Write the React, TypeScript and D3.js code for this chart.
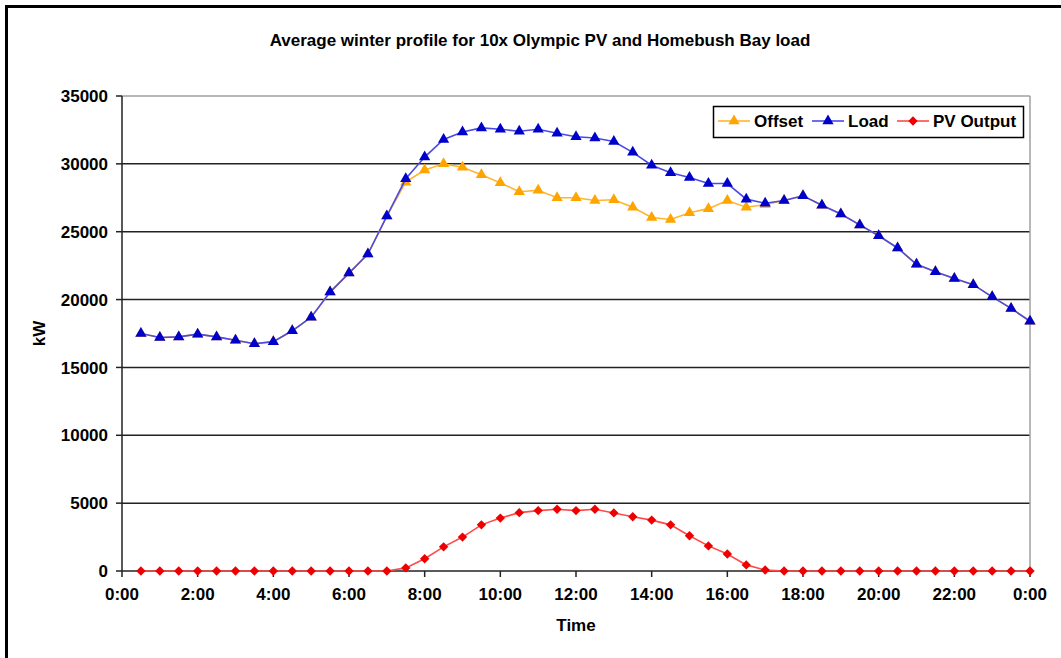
import React from "react";
import * as d3 from "d3";

// half-hourly time stamps (hours), 0:30 .. 24:00
const hours = [
  0.5, 1, 1.5, 2, 2.5, 3, 3.5, 4, 4.5, 5, 5.5, 6, 6.5, 7, 7.5, 8, 8.5, 9, 9.5, 10, 10.5, 11, 11.5, 12,
  12.5, 13, 13.5, 14, 14.5, 15, 15.5, 16, 16.5, 17, 17.5, 18, 18.5, 19, 19.5, 20, 20.5, 21, 21.5, 22,
  22.5, 23, 23.5, 24,
];

const load = [
  17500, 17200, 17250, 17450, 17250, 17000, 16750, 16900, 17700, 18700, 20550, 21950, 23350, 26150,
  28900, 30500, 31800, 32350, 32650, 32550, 32400, 32550, 32250, 32000, 31900, 31650, 30850, 29900,
  29350, 29000, 28550, 28550, 27400, 27100, 27300, 27650, 26950, 26300, 25500, 24700, 23800, 22600,
  22050, 21550, 21100, 20200, 19350, 18400,
];

const offset = [
  17500, 17200, 17250, 17450, 17250, 17000, 16750, 16900, 17700, 18700, 20550, 21950, 23350, 26150,
  28650, 29550, 30000, 29750, 29200, 28600, 27950, 28050, 27500, 27500, 27300, 27350, 26800, 26050,
  25900, 26400, 26700, 27300, 26800, 27000, 27300, 27650, 26950, 26300, 25500, 24700, 23800, 22600,
  22050, 21550, 21100, 20200, 19350, 18400,
];

const pvOutput = [
  0, 0, 0, 0, 0, 0, 0, 0, 0, 0, 0, 0, 0, 0, 230, 900, 1780, 2500, 3400, 3900, 4300, 4450, 4550, 4450,
  4550, 4280, 4000, 3750, 3400, 2600, 1850, 1250, 450, 70, 0, 0, 0, 0, 0, 0, 0, 0, 0, 0, 0, 0, 0, 0,
];

const xTickHours = [0, 2, 4, 6, 8, 10, 12, 14, 16, 18, 20, 22, 24];
const xTickLabels = ["0:00", "2:00", "4:00", "6:00", "8:00", "10:00", "12:00", "14:00", "16:00", "18:00", "20:00", "22:00", "0:00"];
const yTicks = [0, 5000, 10000, 15000, 20000, 25000, 30000, 35000];

const W = 1061;
const H = 658;
const FONT = "'Liberation Sans', Arial, sans-serif";

const x = d3.scaleLinear().domain([0, 24]).range([122, 1030]);
const y = d3.scaleLinear().domain([0, 35000]).range([571, 96]);

// diamonds are drawn as squares turned 45deg, like Excel's markers
const series = [
  { name: "Offset", values: offset, line: "#ffb52e", fill: "#ffa500", symbol: d3.symbolTriangle, size: 55, rot: 0 },
  { name: "Load", values: load, line: "#4a4ae6", fill: "#0000cc", symbol: d3.symbolTriangle, size: 55, rot: 0 },
  { name: "PV Output", values: pvOutput, line: "#ff4a4a", fill: "#ee0000", symbol: d3.symbolSquare, size: 44, rot: 45 },
];

const lineGen = d3
  .line<number>()
  .x((_d, i) => x(hours[i]))
  .y((d) => y(d));

const App = () => {
  const legendX = [718, 812, 897];
  return (
    <svg
      width={W}
      height={H}
      style={{ position: "absolute", left: 0, top: 0, background: "#fff" }}
      fontFamily={FONT}
    >
      <rect x={6.5} y={6.5} width={W + 20} height={H + 20} fill="#fff" stroke="#000" strokeWidth={3} />

      <text x={540} y={46} textAnchor="middle" fontSize={17} fontWeight="bold">
        Average winter profile for 10x Olympic PV and Homebush Bay load
      </text>

      {/* grid */}
      {yTicks.map((t) => (
        <g key={t}>
          {t > 0 && t < 35000 && (
            <line x1={x(0)} x2={x(24)} y1={y(t)} y2={y(t)} stroke="#222" strokeWidth={1.5} />
          )}
          <line x1={116} x2={x(0)} y1={y(t)} y2={y(t)} stroke="#222" strokeWidth={1.5} />
          <text x={108} y={y(t)} dy="0.36em" textAnchor="end" fontSize={17} fontWeight="bold">
            {t}
          </text>
        </g>
      ))}
      <line x1={x(0)} x2={x(24)} y1={y(35000)} y2={y(35000)} stroke="#a0a0a0" strokeWidth={1.5} />
      <line x1={x(24)} x2={x(24)} y1={y(35000)} y2={y(0)} stroke="#a0a0a0" strokeWidth={1.5} />

      {/* axes */}
      <line x1={x(0)} x2={x(0)} y1={y(35000)} y2={y(0)} stroke="#222" strokeWidth={1.5} />
      <line x1={x(0)} x2={x(24)} y1={y(0)} y2={y(0)} stroke="#222" strokeWidth={1.5} />
      {xTickHours.map((h, i) => (
        <g key={i}>
          <line x1={x(h)} x2={x(h)} y1={y(0)} y2={y(0) + 6} stroke="#222" strokeWidth={1.5} />
          <text x={x(h)} y={600} textAnchor="middle" fontSize={17} fontWeight="bold">
            {xTickLabels[i]}
          </text>
        </g>
      ))}
      <text x={576} y={631} textAnchor="middle" fontSize={17} fontWeight="bold">
        Time
      </text>
      <text
        transform={`translate(45, ${(y(0) + y(35000)) / 2}) rotate(-90)`}
        textAnchor="middle"
        fontSize={17}
        fontWeight="bold"
      >
        kW
      </text>

      {/* series */}
      {series.map((s) => (
        <g key={s.name}>
          <path d={lineGen(s.values) || ""} fill="none" stroke={s.line} strokeWidth={1.6} />
          {s.values.map((v, i) => (
            <path
              key={i}
              transform={`translate(${x(hours[i])}, ${y(v)}) rotate(${s.rot})`}
              d={d3.symbol(s.symbol, s.size)() || ""}
              fill={s.fill}
            />
          ))}
        </g>
      ))}

      {/* legend */}
      <rect x={713.5} y={106.5} width={310} height={31} fill="#fff" stroke="#000" strokeWidth={1.5} />
      {series.map((s, i) => (
        <g key={s.name} transform={`translate(${legendX[i]}, 121)`}>
          <line x1={0} x2={32} y1={0} y2={0} stroke={s.line} strokeWidth={1.6} />
          <path transform={`translate(16, 0) rotate(${s.rot})`} d={d3.symbol(s.symbol, s.size)() || ""} fill={s.fill} />
          <text x={36} y={0} dy="0.36em" fontSize={17} fontWeight="bold">
            {s.name}
          </text>
        </g>
      ))}
    </svg>
  );
};

export default App;
